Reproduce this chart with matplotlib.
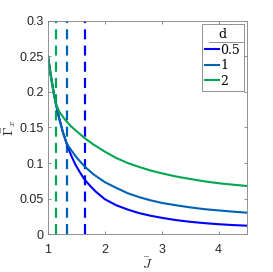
#!/usr/bin/env python3

import matplotlib.pyplot as plt
from matplotlib.lines import Line2D
from matplotlib.ticker import FormatStrFormatter

plt.rcParams["font.family"] = "Liberation Sans"
plt.rcParams["mathtext.fontset"] = "cm"

# shared part of the curves (before each branch point)
j_common = [1.00, 1.05, 1.10, 1.14, 1.20, 1.26, 1.33, 1.40, 1.48, 1.56, 1.645]
g_common = [0.250, 0.223, 0.199, 0.183, 0.162, 0.144, 0.127, 0.112, 0.098, 0.087, 0.0765]

# d = 0.5 after J = 1.645
j_d05 = [1.645, 1.75, 1.85, 2.0, 2.2, 2.4, 2.6, 2.8, 3.0, 3.25, 3.5, 3.75, 4.0, 4.25, 4.5]
g_d05 = [0.0765, 0.067, 0.059, 0.049, 0.0405, 0.0345, 0.0295, 0.0258, 0.0228, 0.0196,
         0.0172, 0.0153, 0.0138, 0.0126, 0.0117]

# d = 1 after J = 1.33
j_d1 = [1.33, 1.40, 1.50, 1.645, 1.80, 2.0, 2.2, 2.4, 2.6, 2.8, 3.0, 3.25, 3.5, 3.75, 4.0, 4.25, 4.5]
g_d1 = [0.127, 0.119, 0.108, 0.095, 0.084, 0.073, 0.065, 0.0575, 0.052, 0.0475, 0.0438,
        0.0405, 0.0375, 0.035, 0.0332, 0.0315, 0.030]

# d = 2 after J = 1.14
j_d2 = [1.14, 1.20, 1.30, 1.40, 1.50, 1.645, 1.80, 2.0, 2.2, 2.4, 2.6, 2.8, 3.0, 3.25, 3.5,
        3.75, 4.0, 4.25, 4.5]
g_d2 = [0.183, 0.172, 0.161, 0.152, 0.145, 0.135, 0.126, 0.116, 0.107, 0.100, 0.0945,
        0.0895, 0.0855, 0.081, 0.0775, 0.0742, 0.0715, 0.0695, 0.0676]

d_labels = ["0.5", "1", "2"]
j_crit = [1.645, 1.33, 1.14]
colors = ["#0000ff", "#0062b4", "#00a650"]


def curve(jc, jb, gb):
    jj = [j for j in j_common if j < jc] + jb
    gg = [g for j, g in zip(j_common, g_common) if j < jc] + gb
    return jj, gg


fig = plt.figure(figsize=(2.73, 2.72), dpi=100)
ax = fig.add_axes([0.1758, 0.1397, 0.729, 0.7831])

branches = [(j_d05, g_d05), (j_d1, g_d1), (j_d2, g_d2)]
for jc, (jb, gb), c in zip(j_crit, branches, colors):
    ax.axvline(jc, color=c, lw=1.6, ls=(0, (4.5, 2.8)))
for jc, (jb, gb), c in zip(j_crit, branches, colors):
    jj, gg = curve(jc, jb, gb)
    ax.plot(jj, gg, color=c, lw=1.5)

ax.set_xlim(1, 4.5)
ax.set_ylim(0, 0.3)
ax.set_xticks([1, 2, 3, 4])
ax.set_yticks([0, 0.05, 0.1, 0.15, 0.2, 0.25, 0.3])
ax.yaxis.set_major_formatter(FormatStrFormatter("%g"))
ax.tick_params(direction="in", top=True, right=True, length=2.5, width=0.6,
               colors="#808080", labelcolor="#262626", labelsize=9, pad=3)
ax.tick_params(axis="x", pad=7)
for s in ax.spines.values():
    s.set_color("#808080")
    s.set_linewidth(0.6)

ax.set_xlabel(r"$\bar{J}$", fontsize=10, color="#262626", labelpad=0.5)
ax.set_ylabel(r"$\bar{\Gamma}_x$", fontsize=10, color="#262626", labelpad=1)

handles = [Line2D([], [], color=c, lw=1.5) for c in colors]
leg = ax.legend(handles, d_labels, title="d", loc="upper right",
                bbox_to_anchor=(0.99, 0.99), fancybox=False, framealpha=1,
                edgecolor="#808080", handlelength=1.1, handletextpad=0.1,
                borderpad=0.3, labelspacing=0.2, borderaxespad=0.1,
                prop={"family": "DejaVu Serif", "size": 9},
                title_fontproperties={"family": "DejaVu Serif", "size": 9})
leg.get_frame().set_linewidth(0.6)
fig.add_artist(Line2D([208.5 / 273, 243.3 / 273], [1 - 42 / 272, 1 - 42 / 272],
                      color="#808080", lw=0.6))

fig.savefig("out.png", dpi=100)
